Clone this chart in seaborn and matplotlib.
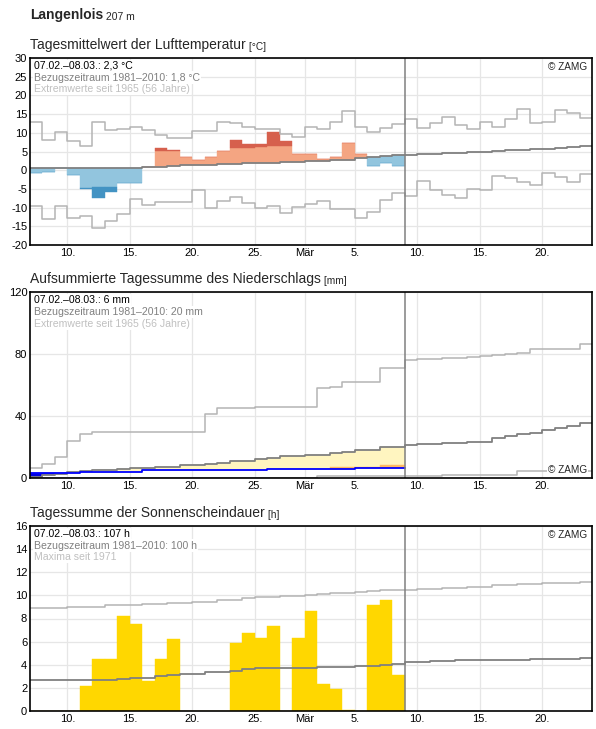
import matplotlib
matplotlib.use("Agg")
import matplotlib.pyplot as plt
import numpy as np
import pandas as pd
import seaborn as sns

# day index 0 = 07.02., period observed = first 30 days, axis shows 45 days
n_days = 45
n_obs = 30
tick_pos = [3, 8, 13, 18, 22, 26, 31, 36, 41]
tick_labels = ["10.", "15.", "20.", "25.", "Mär", "5.", "10.", "15.", "20."]

# --- air temperature (°C) ---
temp_mean = [0.6, 0.6, 0.6, 0.6, 0.6, 0.6, 0.6, 0.6, 0.7, 0.9,
             0.9, 1.0, 1.3, 1.5, 1.5, 1.7, 1.7, 1.8, 2.0, 2.0,
             2.1, 2.3, 2.5, 2.5, 2.8, 2.8, 3.3, 3.5, 3.9, 4.0,
             4.1, 4.2, 4.4, 4.5, 4.7, 4.8, 5.0, 5.1, 5.3, 5.5,
             5.6, 5.8, 6.0, 6.2, 6.4]
temp_max = [12.8, 8.1, 10.3, 7.8, 6.5, 13.0, 10.8, 11.1, 11.5, 10.8,
            9.4, 8.7, 8.7, 10.4, 10.4, 12.9, 12.6, 11.5, 11.1, 11.1,
            9.7, 9.0, 11.6, 10.9, 13.0, 15.9, 11.6, 10.3, 11.3, 12.4,
            13.8, 11.4, 12.7, 14.3, 12.2, 11.1, 13.0, 11.6, 13.8, 16.4,
            12.7, 13.0, 16.2, 15.2, 14.0]
temp_min = [-9.6, -13.1, -9.7, -12.7, -12.3, -15.5, -13.6, -11.8, -7.6, -9.4,
            -8.5, -8.5, -8.5, -5.3, -10.2, -8.2, -7.1, -8.8, -10.0, -9.6,
            -11.4, -9.8, -9.1, -8.3, -10.3, -10.5, -12.9, -11.1, -8.0, -6.1,
            -6.9, -2.9, -5.3, -6.7, -7.5, -5.1, -5.3, -1.6, -2.0, -3.2,
            -4.0, -0.8, -1.9, -3.2, -1.0]
temp_obs = [-0.8, -0.6, 0.5, -1.2, -4.9, -7.3, -5.7, -3.4, -3.5, 0.9,
            6.0, 5.5, 3.6, 2.8, 3.6, 5.2, 8.2, 7.0, 7.0, 10.1,
            7.9, 4.2, 4.4, 3.0, 3.6, 7.4, 4.2, 1.0, 2.0, 1.0]
# end of the pale part of each bar (beyond it the bar is dark)
temp_pale = [-0.8, -0.6, 0.5, -1.2, -4.7, -4.5, -4.5, -3.4, -3.5, 0.9,
             5.2, 5.2, 3.6, 2.8, 3.6, 5.2, 6.0, 6.0, 6.3, 6.5,
             6.5, 4.2, 4.4, 3.0, 3.6, 7.4, 4.2, 1.0, 2.0, 1.0]

# --- cumulated precipitation (mm) ---
prec_mean = [0.8, 2.4, 2.8, 3.9, 4.5, 5.1, 5.1, 5.7, 6.4, 6.4,
             7.0, 7.6, 8.3, 8.7, 9.5, 9.7, 11.2, 11.2, 12.2, 13.1,
             14.2, 14.2, 15.2, 15.2, 16.1, 17.0, 18.3, 18.3, 20.0, 20.0,
             21.3, 21.9, 22.4, 22.8, 22.9, 23.6, 23.7, 25.8, 27.3, 28.4,
             29.4, 31.2, 32.3, 33.5, 35.9]
prec_max = [6.5, 9.1, 14.0, 24.3, 28.4, 30.1, 30.1, 30.1, 30.1, 30.1,
            30.1, 30.1, 30.1, 30.1, 41.5, 45.1, 45.1, 45.1, 45.8, 45.8,
            45.8, 45.8, 45.8, 58.0, 59.1, 62.3, 62.3, 62.3, 71.4, 71.4,
            76.1, 76.7, 76.7, 77.4, 77.8, 78.2, 78.6, 79.3, 79.9, 81.0,
            83.6, 83.6, 83.6, 83.6, 86.4]
prec_min = [0, 0, 0, 0, 0, 0, 0, 0, 0, 0,
            0, 0, 0, 0, 0.4, 0.4, 0.4, 0.4, 0.4, 0.4,
            0.4, 0.4, 0.4, 1.5, 1.5, 1.5, 1.5, 1.5, 1.5, 1.5,
            1.5, 1.5, 1.5, 2.1, 2.1, 2.1, 2.1, 2.1, 2.1, 4.5,
            4.5, 4.5, 4.5, 4.5, 4.5]
prec_obs = [3.2, 3.2, 3.2, 3.2, 4.1, 4.1, 4.1, 4.1, 4.1, 5.2,
            5.2, 5.2, 5.2, 5.2, 5.2, 5.2, 5.2, 5.2, 5.2, 5.8,
            5.8, 5.8, 5.8, 5.8, 5.8, 5.8, 6.4, 6.4, 6.4, 6.4]
# upper edge of the orange band above the observed curve
prec_dry = [0, 0, 0, 0, 0, 0, 0, 0, 0, 0,
            0, 0, 0, 0, 0, 0, 0, 0, 0, 0,
            0, 0, 0, 0, 7.1, 7.6, 7.3, 7.3, 8.4, 8.4]

# --- sunshine duration (h) ---
sun_obs = [0, 0, 0, 0, 2.2, 4.5, 4.5, 8.2, 7.5, 2.6,
           4.5, 6.2, 0, 0, 0, 0, 5.9, 6.75, 6.3, 7.35,
           0, 6.3, 8.65, 2.3, 1.9, 0.1, 0, 9.2, 9.6, 3.1]
sun_mean = [2.68, 2.68, 2.68, 2.68, 2.68, 2.7, 2.7, 2.77, 2.86, 2.86,
            3.03, 3.1, 3.2, 3.2, 3.4, 3.4, 3.45, 3.6, 3.7, 3.7,
            3.7, 3.7, 3.7, 3.8, 3.8, 3.8, 3.9, 3.9, 4.0, 4.1,
            4.2, 4.2, 4.3, 4.3, 4.38, 4.38, 4.38, 4.38, 4.38, 4.38,
            4.47, 4.47, 4.47, 4.47, 4.58]
sun_max = [8.88, 8.88, 8.88, 8.97, 8.97, 8.97, 9.15, 9.15, 9.15, 9.24,
           9.24, 9.35, 9.35, 9.43, 9.43, 9.6, 9.6, 9.78, 9.86, 9.86,
           9.95, 9.95, 10.0, 10.1, 10.17, 10.17, 10.29, 10.4, 10.46, 10.46,
           10.5, 10.58, 10.58, 10.67, 10.67, 10.75, 10.75, 10.93, 10.93, 11.0,
           11.0, 11.1, 11.1, 11.1, 11.2]

GRID = "#e6e6e6"
MEAN_C = "#808080"
EXT_C = "#b4b4b4"
TXT = 7.6


def step_line(ax, values, color, lw, z=3):
    df = pd.DataFrame({"day": np.arange(len(values) + 1),
                       "value": list(values) + [values[-1]]})
    sns.lineplot(data=df, x="day", y="value", ax=ax, color=color,
                 linewidth=lw, drawstyle="steps-post", zorder=z)


def bars(ax, days, top, bottom, color, z=2):
    top = np.asarray(top, float)
    bottom = np.asarray(bottom, float)
    ax.bar(days, top - bottom, bottom=bottom, width=1.0, align="edge",
           color=color, edgecolor=color, linewidth=0.3, zorder=z)


def style_axis(ax, ymin, ymax, yticks):
    ax.set_xlim(0, n_days)
    ax.set_ylim(ymin, ymax)
    ax.set_xticks(tick_pos)
    ax.set_xticklabels(tick_labels)
    ax.set_yticks(yticks)
    ax.set_xlabel("")
    ax.set_ylabel("")
    ax.grid(True, color=GRID, linewidth=0.9)
    ax.set_axisbelow(True)
    ax.tick_params(length=0, labelsize=8, pad=2, colors="black")
    for s in ax.spines.values():
        s.set_color("black")
        s.set_linewidth(1.2)
        s.set_zorder(10)
    ax.axvline(n_obs, color=MEAN_C, linewidth=1.1, zorder=6)


def info_text(ax, lines):
    colors = ["black", "#808080", "#c0c0c0"]
    for i, (t, c) in enumerate(zip(lines, colors)):
        ax.annotate(t, xy=(0, 1), xycoords="axes fraction",
                    xytext=(4, -3 - i * 11.6), textcoords="offset pixels",
                    ha="left", va="top", fontsize=TXT, color=c, zorder=8,
                    bbox=dict(facecolor="white", edgecolor="none", pad=0.8))


def zamg(ax, top=True):
    if top:
        ax.annotate("© ZAMG", xy=(1, 1), xycoords="axes fraction", xytext=(-5, -4),
                    textcoords="offset pixels", ha="right", va="top", fontsize=TXT - 0.4,
                    zorder=8, bbox=dict(facecolor="white", edgecolor="none", pad=0.8))
    else:
        ax.annotate("© ZAMG", xy=(1, 0), xycoords="axes fraction", xytext=(-5, 3),
                    textcoords="offset pixels", ha="right", va="bottom", fontsize=TXT - 0.4,
                    zorder=8, bbox=dict(facecolor="white", edgecolor="none", pad=0.8))


def panel_title(fig, y_px, title, unit):
    t = fig.text(30 / 596, 1 - y_px / 729, title, fontsize=10, va="baseline", ha="left")
    fig.canvas.draw()
    plt.annotate(" " + unit, xy=(1, 0), xycoords=t, va="bottom", ha="left",
                 fontsize=7.3, annotation_clip=False)


def main():
    sns.set_theme(style="whitegrid")
    plt.rcParams["font.family"] = ["Liberation Sans", "DejaVu Sans"]
    plt.rcParams["axes.unicode_minus"] = False

    fig = plt.figure(figsize=(5.96, 7.29), dpi=100)
    left = 30 / 596
    width = 562 / 596
    ax1 = fig.add_axes([left, 1 - 245 / 729, width, 187 / 729])
    ax2 = fig.add_axes([left, 1 - 478.3 / 729, width, 186 / 729])
    ax3 = fig.add_axes([left, 1 - 711 / 729, width, 185 / 729])

    days = np.arange(n_obs)

    # temperature
    mean_obs = np.array(temp_mean[:n_obs])
    obs = np.array(temp_obs)
    pale = np.array(temp_pale)
    warm = obs >= mean_obs
    bars(ax1, days[warm], pale[warm], mean_obs[warm], "#f4a582")
    bars(ax1, days[warm], obs[warm], pale[warm], "#d6604d")
    bars(ax1, days[~warm], pale[~warm], mean_obs[~warm], "#92c5de")
    bars(ax1, days[~warm], obs[~warm], pale[~warm], "#4393c3")
    step_line(ax1, temp_max, EXT_C, 1.1)
    step_line(ax1, temp_min, EXT_C, 1.1)
    step_line(ax1, temp_mean, MEAN_C, 1.3, z=4)
    style_axis(ax1, -20, 30, np.arange(-20, 31, 5))
    info_text(ax1, ["07.02.–08.03.: 2,3 °C",
                    "Bezugszeitraum 1981–2010: 1,8 °C",
                    "Extremwerte seit 1965 (56 Jahre)"])
    zamg(ax1)

    # precipitation
    pm = np.array(prec_mean[:n_obs])
    po = np.array(prec_obs)
    pdry = np.array(prec_dry)
    dry = pm > po
    wet = ~dry
    bars(ax2, days[dry], pm[dry], po[dry], "#fff5c0")
    orange = pdry > po
    bars(ax2, days[orange], pdry[orange], po[orange], "#fdb863")
    bars(ax2, days[wet], po[wet], pm[wet], "#0000e0")
    step_line(ax2, prec_max, EXT_C, 1.1)
    step_line(ax2, prec_min, EXT_C, 1.1)
    step_line(ax2, prec_mean, MEAN_C, 1.3, z=4)
    step_line(ax2, prec_obs, "#0000ff", 1.3, z=5)
    style_axis(ax2, 0, 120, [0, 40, 80, 120])
    info_text(ax2, ["07.02.–08.03.: 6 mm",
                    "Bezugszeitraum 1981–2010: 20 mm",
                    "Extremwerte seit 1965 (56 Jahre)"])
    zamg(ax2, top=False)

    # sunshine
    ax3.bar(days, sun_obs, width=1.0, align="edge", color="#ffd700",
            edgecolor="#ffd700", linewidth=0.3, zorder=2)
    step_line(ax3, sun_max, EXT_C, 1.1)
    step_line(ax3, sun_mean, MEAN_C, 1.3, z=4)
    style_axis(ax3, 0, 16, np.arange(0, 17, 2))
    info_text(ax3, ["07.02.–08.03.: 107 h",
                    "Bezugszeitraum 1981–2010: 100 h",
                    "Maxima seit 1971"])
    zamg(ax3)

    # titles
    t = fig.text(30 / 596, 1 - 18.5 / 729, "Langenlois", fontsize=10,
                 fontweight="bold", va="baseline", ha="left")
    plt.annotate(" 207 m", xy=(1, 0), xycoords=t, va="bottom", ha="left",
                 fontsize=7.5, annotation_clip=False)
    panel_title(fig, 49, "Tagesmittelwert der Lufttemperatur", "[°C]")
    panel_title(fig, 283, "Aufsummierte Tagessumme des Niederschlags", "[mm]")
    panel_title(fig, 517, "Tagessumme der Sonnenscheindauer", "[h]")

    fig.savefig("out.png", dpi=100, facecolor="white")


if __name__ == "__main__":
    main()
